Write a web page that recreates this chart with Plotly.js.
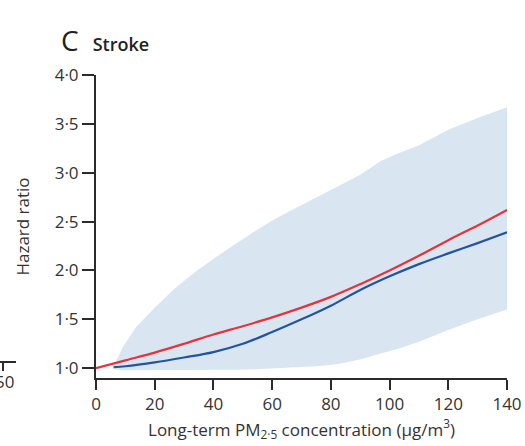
<!DOCTYPE html>
<html>
<head>
<meta charset="utf-8">
<script src="https://cdn.plot.ly/plotly-3.0.1.min.js"></script>
<style>html,body{margin:0;padding:0;background:#fff;}#chart{width:525px;height:446px;}</style>
</head>
<body>
<div id="chart"></div>
<script>
// PM2.5 concentration (µg/m³) and hazard ratios
const redX   = [0, 10, 20, 30, 40, 50, 60, 70, 80, 90, 100, 110, 120, 130, 140];
const redHR  = [1.0, 1.08, 1.16, 1.25, 1.345, 1.43, 1.52, 1.62, 1.73, 1.86, 2.0, 2.15, 2.31, 2.46, 2.62];

const blueX  = [6, 10, 20, 30, 40, 50, 60, 70, 80, 90, 100, 110, 120, 130, 140];
const blueHR = [1.01, 1.02, 1.06, 1.11, 1.165, 1.25, 1.37, 1.5, 1.64, 1.8, 1.94, 2.065, 2.175, 2.28, 2.39];

const bandX     = [5.5, 7, 9, 13.6, 20, 27, 34, 41, 48, 54.5, 61, 68, 75, 82, 90, 97, 103, 110, 120, 130, 140];
const bandUpper = [1.0, 1.08, 1.21, 1.42, 1.62, 1.82, 1.99, 2.14, 2.28, 2.41, 2.53, 2.64, 2.75, 2.86, 2.98, 3.12, 3.2, 3.28, 3.44, 3.56, 3.67];
const bandLower = [1.0, 0.985, 0.98, 0.98, 0.98, 0.98, 0.98, 0.98, 0.985, 0.99, 1.0, 1.01, 1.02, 1.04, 1.09, 1.15, 1.2, 1.27, 1.39, 1.5, 1.6];

const xTickVals = [0, 20, 40, 60, 80, 100, 120, 140];
const xTickText = ['0', '20', '40', '60', '80', '100', '120', '140'];
const yTickVals = [1.0, 1.5, 2.0, 2.5, 3.0, 3.5, 4.0];
const yTickText = ['1·0', '1·5', '2·0', '2·5', '3·0', '3·5', '4·0'];

const FONT = 'Open Sans, sans-serif';
const TXT = '#333333';
const BAND = '#d9e6f2';

const traces = [
  {x: bandX, y: bandLower, mode: 'lines', line: {width: 0, color: BAND}, hoverinfo: 'skip', showlegend: false},
  {x: bandX, y: bandUpper, mode: 'lines', fill: 'tonexty', fillcolor: BAND, line: {width: 0, color: BAND}, hoverinfo: 'skip', showlegend: false},
  {x: blueX, y: blueHR, mode: 'lines', line: {color: '#23559c', width: 2.2, shape: 'spline', smoothing: 1}, showlegend: false},
  {x: redX, y: redHR, mode: 'lines', line: {color: '#e3343e', width: 2.2, shape: 'spline', smoothing: 1}, showlegend: false}
];

const W = 525, H = 446, L = 96, R = 18, T = 75, B = 68;
const pw = W - L - R, ph = H - T - B;
const px = v => (v - L) / pw;
const py = v => (H - B - v) / ph;

const layout = {
  width: W, height: H,
  margin: {l: L, r: R, t: T, b: B, pad: 0},
  paper_bgcolor: '#ffffff', plot_bgcolor: '#ffffff',
  font: {family: FONT, color: TXT, size: 14},
  showlegend: false,
  title: {
    text: '<span style="font-size:28px;font-weight:400">C</span>&nbsp;&nbsp;&nbsp;<span style="font-weight:600">Stroke</span>',
    x: 61 / W, xanchor: 'left', xref: 'container',
    y: 1 - 45 / H, yanchor: 'middle', yref: 'container',
    font: {family: FONT, size: 18, color: '#222'}
  },
  xaxis: {
    range: [0, 140], showgrid: false, zeroline: false,
    showline: true, linecolor: '#2b2b2b', linewidth: 2,
    ticks: 'outside', ticklen: 10, tickwidth: 2, tickcolor: '#2b2b2b',
    tickvals: xTickVals, ticktext: xTickText,
    tickfont: {family: FONT, size: 17, color: TXT},
    title: {text: 'Long-term PM<sub>2·5</sub> concentration (µg/m<sup>3</sup>)', font: {family: FONT, size: 17, color: TXT}, standoff: 4}
  },
  yaxis: {
    range: [0.9, 4.0], showgrid: false, zeroline: false,
    showline: true, linecolor: '#2b2b2b', linewidth: 2,
    ticks: 'outside', ticklen: 12, tickwidth: 2, tickcolor: '#2b2b2b',
    tickvals: yTickVals, ticktext: yTickText,
    tickfont: {family: FONT, size: 17, color: TXT},
    title: {text: 'Hazard ratio', font: {family: FONT, size: 17, color: TXT}, standoff: 21}
  },
  shapes: [
    {type: 'line', xref: 'paper', yref: 'paper', x0: px(0), x1: px(16), y0: py(362), y1: py(362), line: {color: '#2b2b2b', width: 2}},
    {type: 'line', xref: 'paper', yref: 'paper', x0: px(3), x1: px(3), y0: py(362), y1: py(371), line: {color: '#2b2b2b', width: 2}}
  ],
  annotations: [
    {text: '50', xref: 'paper', yref: 'paper', x: px(16), y: py(381), xanchor: 'right', yanchor: 'middle', showarrow: false, font: {family: FONT, size: 17, color: TXT}}
  ]
};

Plotly.newPlot('chart', traces, layout, {staticPlot: true, displayModeBar: false});
</script>
</body>
</html>
